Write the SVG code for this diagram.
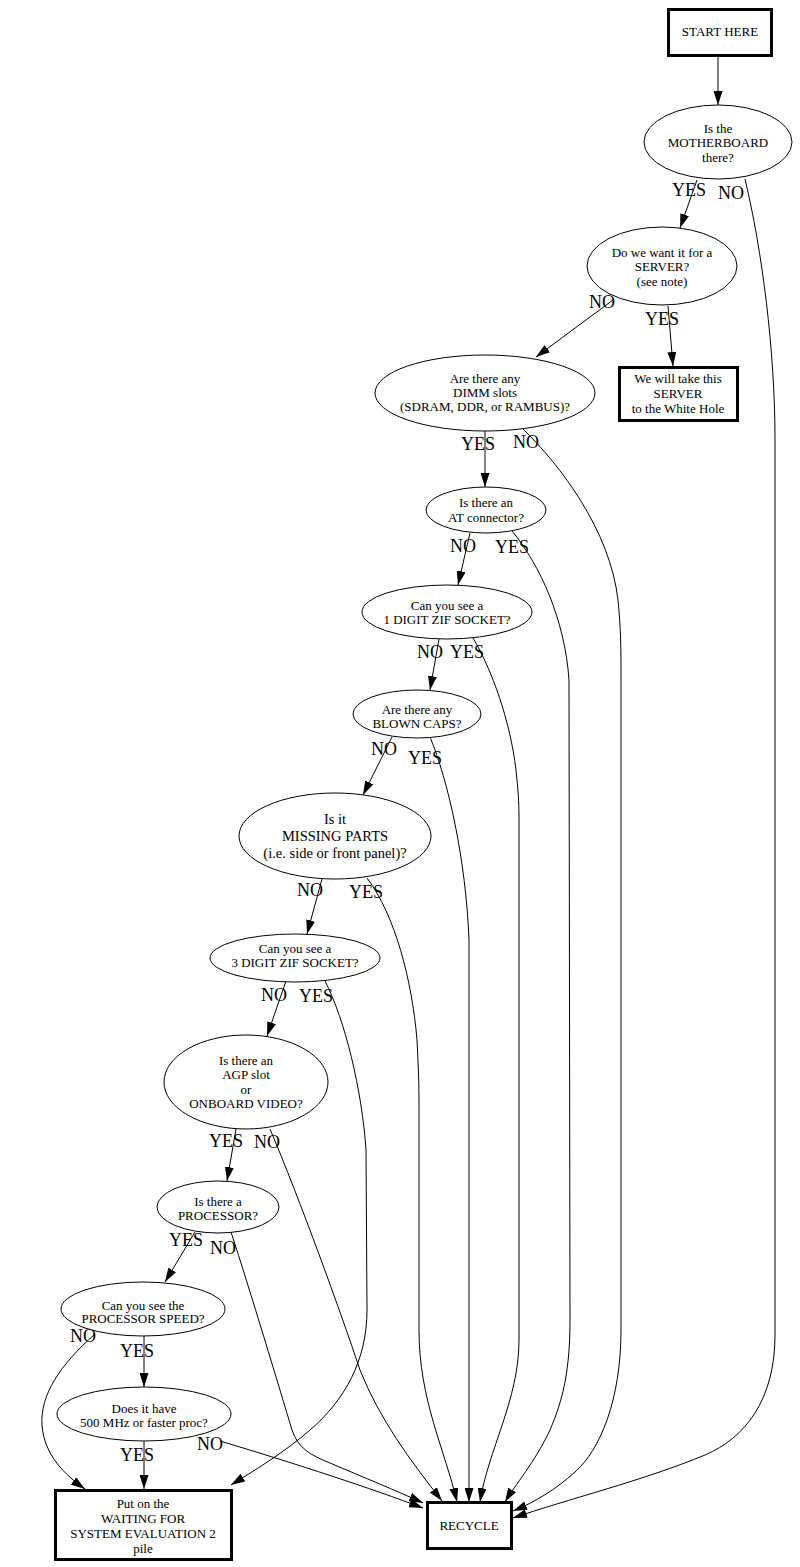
<svg xmlns="http://www.w3.org/2000/svg" width="800" height="1567" viewBox="0 0 800 1567">
<defs>
<marker id="arr" viewBox="0 0 14 9" refX="14" refY="4.5" markerWidth="14" markerHeight="9" markerUnits="userSpaceOnUse" orient="auto">
<path d="M0,0 L14,4.5 L0,9 z" fill="#000"/>
</marker>
</defs>
<style>
.n ellipse{fill:#fff;stroke:#000;stroke-width:1}
.b rect{fill:#fff;stroke:#000;stroke-width:3}
.t{font-family:"Liberation Serif","Times New Roman",serif;font-size:13px;text-anchor:middle;fill:#000}
.tl{font-family:"Liberation Serif","Times New Roman",serif;font-size:14.5px;text-anchor:middle;fill:#000}
.l{font-family:"Liberation Serif","Times New Roman",serif;font-size:18px;text-anchor:middle;fill:#000}
#edges path{fill:none;stroke:#000;stroke-width:1;marker-end:url(#arr)}
</style>
<rect width="800" height="1567" fill="#fff"/>
<g id="edges">
<path d="M718,57 L718,105"/>
<path d="M697,180 L680,228"/>
<path d="M745,179 C762,250 775,350 775,440 L775,1335 C775,1400 745,1438 705,1455 C645,1480 565,1500 513,1518"/>
<path d="M668,306 L673,366"/>
<path d="M613,300 L536,357"/>
<path d="M485,431 L485,487"/>
<path d="M523,429 C560,465 610,530 618,600 C621,630 621,650 621,680 L621,1330 C621,1400 600,1450 575,1472 C555,1490 535,1502 513,1511"/>
<path d="M470,533 L458,585"/>
<path d="M512,531 C540,565 565,620 569,680 L570,1320 C570,1370 563,1400 550,1430 C535,1462 515,1485 505,1502"/>
<path d="M439,639 L430,690"/>
<path d="M473,638 C492,670 510,720 516,770 C518,790 519,800 519,820 L519,1340 C519,1400 488,1450 480,1502"/>
<path d="M392,737 L363,795"/>
<path d="M430,737 C448,780 466,860 469,940 L469,1502"/>
<path d="M322,879 L307,934"/>
<path d="M367,878 C395,915 412,980 417,1040 C418,1060 419,1080 419,1100 L419,1330 C419,1400 445,1450 457,1502"/>
<path d="M286,981 L267,1036"/>
<path d="M325,981 C345,1020 362,1090 366,1150 L367,1310 C367,1360 345,1400 310,1430 C285,1452 255,1470 231,1485"/>
<path d="M236,1129 L227,1181"/>
<path d="M270,1129 C300,1200 340,1310 360,1370 C380,1420 410,1460 442,1501"/>
<path d="M195,1232 L165,1282"/>
<path d="M231,1232 C250,1290 280,1390 292,1430 C298,1448 310,1455 330,1463 C365,1478 395,1490 423,1503"/>
<path d="M95,1334 C60,1365 40,1395 42,1425 C44,1455 65,1475 85,1489"/>
<path d="M144,1336 L144,1387"/>
<path d="M144,1441 L144,1489"/>
<path d="M220,1441 C300,1465 370,1488 423,1508"/>
</g>
<g id="labels">
<text class="l" x="689" y="196">YES</text>
<text class="l" x="731" y="199">NO</text>
<text class="l" x="602" y="308">NO</text>
<text class="l" x="662" y="325">YES</text>
<text class="l" x="478" y="450">YES</text>
<text class="l" x="526" y="448">NO</text>
<text class="l" x="463" y="552">NO</text>
<text class="l" x="512" y="553">YES</text>
<text class="l" x="430" y="658">NO</text>
<text class="l" x="467" y="658">YES</text>
<text class="l" x="384" y="755">NO</text>
<text class="l" x="425" y="764">YES</text>
<text class="l" x="310" y="896">NO</text>
<text class="l" x="366" y="898">YES</text>
<text class="l" x="274" y="1001">NO</text>
<text class="l" x="316" y="1002">YES</text>
<text class="l" x="226" y="1147">YES</text>
<text class="l" x="267" y="1148">NO</text>
<text class="l" x="186" y="1246">YES</text>
<text class="l" x="223" y="1254">NO</text>
<text class="l" x="83" y="1342">NO</text>
<text class="l" x="137" y="1357">YES</text>
<text class="l" x="210" y="1450">NO</text>
<text class="l" x="137" y="1461">YES</text>
</g>
<g id="start" class="b">
<rect x="668.5" y="9.5" width="103" height="46"/>
<text class="t" x="720" y="36">START HERE</text>
</g>
<g id="motherboard" class="n">
<ellipse cx="718" cy="142" rx="74" ry="37"/>
<text class="t" x="718" y="132.5">Is the</text>
<text class="t" x="718" y="147">MOTHERBOARD</text>
<text class="t" x="718" y="161.5">there?</text>
</g>
<g id="server" class="n">
<ellipse cx="662" cy="266" rx="75" ry="39"/>
<text class="t" x="662" y="256.5">Do we want it for a</text>
<text class="t" x="662" y="271">SERVER?</text>
<text class="t" x="662" y="285.5">(see note)</text>
</g>
<g id="whitehole" class="b">
<rect x="619.5" y="367.5" width="118" height="53"/>
<text class="t" x="678" y="382.5">We will take this</text>
<text class="t" x="678" y="397.5">SERVER</text>
<text class="t" x="678" y="412.5">to the White Hole</text>
</g>
<g id="dimm" class="n">
<ellipse cx="485" cy="393" rx="110" ry="38"/>
<text class="t" x="485" y="382.5">Are there any</text>
<text class="t" x="485" y="396.5">DIMM slots</text>
<text class="t" x="485" y="410.5">(SDRAM, DDR, or RAMBUS)?</text>
</g>
<g id="at" class="n">
<ellipse cx="486" cy="510" rx="60" ry="23"/>
<text class="t" x="486" y="506.5">Is there an</text>
<text class="t" x="486" y="521.5">AT connector?</text>
</g>
<g id="zif1" class="n">
<ellipse cx="447" cy="612" rx="85" ry="27"/>
<text class="t" x="447" y="609.5">Can you see a</text>
<text class="t" x="447" y="624">1 DIGIT ZIF SOCKET?</text>
</g>
<g id="blown" class="n">
<ellipse cx="417" cy="714" rx="64" ry="24"/>
<text class="t" x="417" y="713.5">Are there any</text>
<text class="t" x="417" y="727.5">BLOWN CAPS?</text>
</g>
<g id="missing" class="n">
<ellipse cx="335" cy="836" rx="96" ry="43"/>
<text class="tl" x="335" y="824">Is it</text>
<text class="tl" x="335" y="841">MISSING PARTS</text>
<text class="tl" x="335" y="858">(i.e. side or front panel)?</text>
</g>
<g id="zif3" class="n">
<ellipse cx="295" cy="958" rx="85" ry="24"/>
<text class="t" x="295" y="952.5">Can you see a</text>
<text class="t" x="295" y="967">3 DIGIT ZIF SOCKET?</text>
</g>
<g id="agp" class="n">
<ellipse cx="246" cy="1082" rx="82" ry="47"/>
<text class="t" x="246" y="1064.5">Is there an</text>
<text class="t" x="246" y="1079">AGP slot</text>
<text class="t" x="246" y="1093.5">or</text>
<text class="t" x="246" y="1108">ONBOARD VIDEO?</text>
</g>
<g id="processor" class="n">
<ellipse cx="218" cy="1207" rx="61" ry="26"/>
<text class="t" x="218" y="1205.5">Is there a</text>
<text class="t" x="218" y="1219.5">PROCESSOR?</text>
</g>
<g id="speed" class="n">
<ellipse cx="143" cy="1309" rx="82" ry="27"/>
<text class="t" x="143" y="1309.5">Can you see the</text>
<text class="t" x="143" y="1323">PROCESSOR SPEED?</text>
</g>
<g id="mhz" class="n">
<ellipse cx="144" cy="1414" rx="87" ry="27"/>
<text class="t" x="144" y="1412.5">Does it have</text>
<text class="t" x="144" y="1426.5">500 MHz or faster proc?</text>
</g>
<g id="waiting" class="b">
<rect x="55.5" y="1490.5" width="176" height="69"/>
<text class="t" x="143" y="1507.5">Put on the</text>
<text class="t" x="143" y="1522.5">WAITING FOR</text>
<text class="t" x="143" y="1537.5">SYSTEM EVALUATION 2</text>
<text class="t" x="143" y="1552.5">pile</text>
</g>
<g id="recycle" class="b">
<rect x="427.5" y="1502.5" width="84" height="46"/>
<text class="t" x="469" y="1530">RECYCLE</text>
</g>
</svg>
